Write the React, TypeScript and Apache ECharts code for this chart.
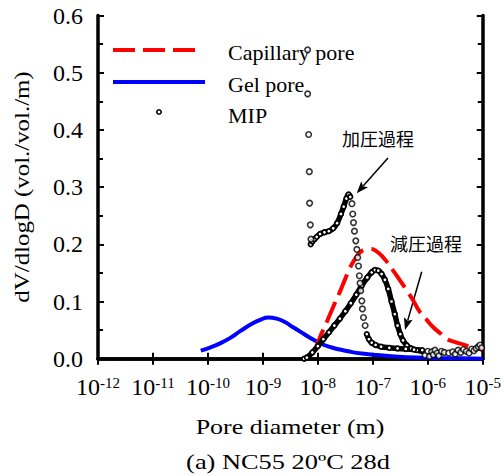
import React, { useEffect, useRef } from "react";
import * as echarts from "echarts";

// ---- axis settings ----
const X_MIN = 1e-12;
const X_MAX = 1e-5;
const Y_MIN = 0;
const Y_MAX = 0.6;
const Y_STEP = 0.1;

// ---- texts ----
const X_NAME = "Pore diameter (m)";
const Y_NAME = "dV/dlogD (vol./vol./m)";
const CAPTION = "(a) NC55 20ºC 28d";
const LEGEND_LABELS = ["Capillary pore", "Gel pore", "MIP"];
const NOTE_IN = "加圧過程";
const NOTE_OUT = "減圧過程";

// ---- data (log10 of pore diameter in m, and dV/dlogD) ----
const gelLogD = [-10.13, -9.95, -9.8, -9.6, -9.4, -9.2, -9.05, -8.9, -8.75, -8.6, -8.45, -8.3, -8.15, -8.0, -7.8, -7.6, -7.4, -7.2, -7.0, -6.6, -6.2, -5.8, -5.4, -5.0];
const gelValue = [0.014, 0.02, 0.026, 0.036, 0.049, 0.061, 0.068, 0.072, 0.07, 0.064, 0.055, 0.046, 0.037, 0.029, 0.021, 0.016, 0.012, 0.009, 0.007, 0.004, 0.002, 0.001, 0.001, 0.0];

const capLogD = [-8.05, -7.95, -7.83, -7.71, -7.59, -7.5, -7.41, -7.32, -7.23, -7.14, -7.05, -6.95, -6.81, -6.63, -6.5, -6.38, -6.26, -6.14, -6.02, -5.9, -5.78, -5.66, -5.5, -5.36, -5.2, -5.0];
const capValue = [0.015, 0.04, 0.066, 0.093, 0.119, 0.14, 0.16, 0.175, 0.186, 0.191, 0.192, 0.189, 0.177, 0.154, 0.136, 0.119, 0.101, 0.081, 0.068, 0.055, 0.045, 0.035, 0.029, 0.025, 0.02, 0.016];

// MIP intrusion (pressurization) – high-pressure end, sparse points
const inHighLogD = [-8.186, -8.186, -8.168, -8.155, -8.15, -8.137, -8.125];
const inHighValue = [0.54, 0.463, 0.392, 0.327, 0.272, 0.234, 0.209];
// MIP intrusion – dense hump
const inHumpLogD = [-8.13, -8.1, -8.06, -8.02, -7.96, -7.88, -7.8, -7.72, -7.65, -7.58, -7.53, -7.48, -7.44, -7.41];
const inHumpValue = [0.2, 0.205, 0.209, 0.213, 0.218, 0.221, 0.223, 0.228, 0.237, 0.253, 0.266, 0.28, 0.287, 0.283];
// MIP intrusion – steep drop, sparse points
const inDropLogD = [-7.38, -7.365, -7.352, -7.334, -7.31, -7.29, -7.275, -7.26, -7.245, -7.232, -7.22, -7.2, -7.19, -7.17, -7.14];
const inDropValue = [0.271, 0.253, 0.238, 0.223, 0.206, 0.191, 0.177, 0.162, 0.145, 0.132, 0.119, 0.101, 0.087, 0.072, 0.058];
// MIP intrusion – dense tail
const inTailLogD = [-7.11, -7.07, -7.02, -6.95, -6.85, -6.7, -6.55, -6.4, -6.25, -6.1];
const inTailValue = [0.043, 0.034, 0.028, 0.024, 0.021, 0.019, 0.018, 0.017, 0.016, 0.015];
// MIP extrusion (depressurization)
const outLogD = [-8.25, -8.2, -8.1, -8.0, -7.9, -7.8, -7.7, -7.6, -7.5, -7.4, -7.3, -7.2, -7.1, -7.02, -6.96, -6.9, -6.84, -6.78, -6.72, -6.66, -6.6, -6.55, -6.5, -6.45, -6.38, -6.3, -6.2, -6.1];
const outValue = [0.0, 0.002, 0.011, 0.022, 0.034, 0.046, 0.058, 0.07, 0.083, 0.097, 0.112, 0.128, 0.142, 0.151, 0.155, 0.154, 0.148, 0.138, 0.122, 0.1, 0.078, 0.058, 0.043, 0.032, 0.023, 0.018, 0.015, 0.013];
// MIP large pores – scattered points
const largeLogD = [-6.05, -6.0, -5.97, -5.93, -5.9, -5.87, -5.83, -5.8, -5.75, -5.7, -5.62, -5.55, -5.5, -5.45, -5.4, -5.35, -5.3, -5.25, -5.2, -5.16, -5.12, -5.08, -5.05, -5.02];
const largeValue = [0.006, 0.013, 0.004, 0.012, 0.007, 0.015, 0.01, 0.005, 0.013, 0.011, 0.01, 0.012, 0.008, 0.015, 0.011, 0.016, 0.013, 0.01, 0.017, 0.014, 0.018, 0.021, 0.024, 0.019];

const toPairs = (l: number[], v: number[]) => l.map((x, i) => [Math.pow(10, x), v[i]]);

const SERIF = "Liberation Serif, Times New Roman, serif";
const CJK = "Noto Sans CJK JP, Noto Sans CJK SC, sans-serif";

function arrow(x1: number, y1: number, x2: number, y2: number) {
  const dx = x2 - x1;
  const dy = y2 - y1;
  const len = Math.hypot(dx, dy);
  const ux = dx / len;
  const uy = dy / len;
  const hl = 12;
  const hw = 4.5;
  const bx = x2 - ux * hl;
  const by = y2 - uy * hl;
  return [
    { type: "line", shape: { x1, y1, x2: bx + ux * 2, y2: by + uy * 2 }, style: { stroke: "#000", lineWidth: 1.5 } },
    {
      type: "polygon",
      shape: { points: [[x2, y2], [bx - uy * hw, by + ux * hw], [bx + ux * 2.5, by + uy * 2.5], [bx + uy * hw, by - ux * hw]] },
      style: { fill: "#000" },
    },
  ];
}

function txt(text: string, x: number, y: number, font: string, size: number, align = "left", extra: any = {}) {
  return {
    type: "text",
    x,
    y,
    ...extra,
    style: {
      text,
      fill: "#000",
      fontFamily: font,
      fontSize: size,
      align,
      verticalAlign: "middle",
      textAlign: align,
      textVerticalAlign: "middle",
    },
  };
}

const axisLine = { show: true, lineStyle: { color: "#000", width: 3.5 } };
const axisTick = { show: true, inside: true, length: 6, lineStyle: { color: "#000", width: 2 } };

export default function App() {
  const ref = useRef<HTMLDivElement>(null);
  useEffect(() => {
    if (!ref.current) return;
    const chart = echarts.init(ref.current, undefined, { renderer: "svg" });
    const symbolStyle = { color: "#fff", borderColor: "#000", borderWidth: 1.6 };
    const denseLine = (l: number[], v: number[]) => ({
      type: "line",
      name: LEGEND_LABELS[2],
      data: toPairs(l, v),
      smooth: true,
      symbol: "circle",
      symbolSize: 4.5,
      lineStyle: { color: "#000", width: 5.5 },
      itemStyle: { color: "#fff", borderColor: "#000", borderWidth: 1.8 },
      z: 4,
    });
    const option: any = {
      animation: false,
      backgroundColor: "#fff",
      grid: { left: 98, right: 20, top: 15.5, bottom: 117.3 },
      xAxis: [
        {
          type: "log",
          logBase: 10,
          min: X_MIN,
          max: X_MAX,
          position: "bottom",
          axisLine,
          axisTick,
          splitLine: { show: false },
          axisLabel: {
            margin: 17,
            formatter: (v: number) => `{b|10}{s|${Math.round(Math.log10(v))}}`,
            rich: {
              b: { fontFamily: SERIF, fontSize: 24, color: "#000", lineHeight: 22 },
              s: { fontFamily: SERIF, fontSize: 15, color: "#000", lineHeight: 14, verticalAlign: "top" },
            },
          },
        },
        {
          type: "log",
          logBase: 10,
          min: X_MIN,
          max: X_MAX,
          position: "top",
          axisLine,
          axisTick,
          splitLine: { show: false },
          axisLabel: { show: false },
        },
      ],
      yAxis: [
        {
          type: "value",
          min: Y_MIN,
          max: Y_MAX,
          interval: Y_STEP,
          position: "left",
          axisLine,
          axisTick,
          minorTick: { show: true, splitNumber: 2, length: 5, lineStyle: { color: "#000", width: 2 } },
          splitLine: { show: false },
          minorSplitLine: { show: false },
          axisLabel: {
            margin: 15,
            formatter: (v: number) => v.toFixed(1),
            fontFamily: SERIF,
            fontSize: 24,
            color: "#000",
          },
        },
        {
          type: "value",
          min: Y_MIN,
          max: Y_MAX,
          interval: Y_STEP,
          position: "right",
          axisLine,
          axisTick,
          minorTick: { show: true, splitNumber: 2, length: 5, lineStyle: { color: "#000", width: 2 } },
          splitLine: { show: false },
          minorSplitLine: { show: false },
          axisLabel: { show: false },
        },
      ],
      series: [
        {
          type: "line",
          name: LEGEND_LABELS[1],
          data: toPairs(gelLogD, gelValue),
          symbol: "none",
          smooth: true,
          lineStyle: { color: "#0000ff", width: 4 },
          z: 2,
        },
        {
          type: "line",
          name: LEGEND_LABELS[0],
          data: toPairs(capLogD, capValue),
          symbol: "none",
          smooth: true,
          lineStyle: { color: "#ff0000", width: 4, type: [22, 8] },
          z: 3,
        },
        denseLine(outLogD, outValue),
        denseLine(inHumpLogD, inHumpValue),
        denseLine(inTailLogD, inTailValue),
        {
          type: "scatter",
          name: LEGEND_LABELS[2],
          data: toPairs(inHighLogD, inHighValue)
            .concat(toPairs(inDropLogD, inDropValue))
            .concat(toPairs(largeLogD, largeValue)),
          symbol: "circle",
          symbolSize: 5.5,
          itemStyle: symbolStyle,
          z: 5,
        },
      ],
      graphic: [
        { type: "line", shape: { x1: 113, y1: 50, x2: 200, y2: 50 }, style: { stroke: "#ff0000", lineWidth: 4, lineDash: [22, 8] } },
        { type: "line", shape: { x1: 113, y1: 82, x2: 205, y2: 82 }, style: { stroke: "#0000ff", lineWidth: 4 } },
        { type: "circle", shape: { cx: 159, cy: 112, r: 2.2 }, style: { fill: "#fff", stroke: "#000", lineWidth: 1.6 } },
        txt(LEGEND_LABELS[0], 228, 52, SERIF, 22),
        txt(LEGEND_LABELS[1], 228, 84, SERIF, 22),
        txt(LEGEND_LABELS[2], 228, 115, SERIF, 22),
        txt(NOTE_IN, 342, 138, CJK, 18),
        txt(NOTE_OUT, 390, 243, CJK, 18),
        ...arrow(388, 158, 356.7, 193.3),
        ...arrow(421.7, 271.7, 405, 330),
        txt(X_NAME, 290, 427, SERIF, 22, "center", { scaleX: 1.18 }),
        txt(Y_NAME, 22, 187, SERIF, 22, "center", { rotation: Math.PI / 2, scaleX: 1.13 }),
        txt(CAPTION, 288, 461, SERIF, 22, "center", { scaleX: 1.2 }),
      ],
    };
    chart.setOption(option);
    return () => chart.dispose();
  }, []);
  return <div ref={ref} style={{ position: "fixed", left: 0, top: 0, width: 504, height: 476 }} />;
}
